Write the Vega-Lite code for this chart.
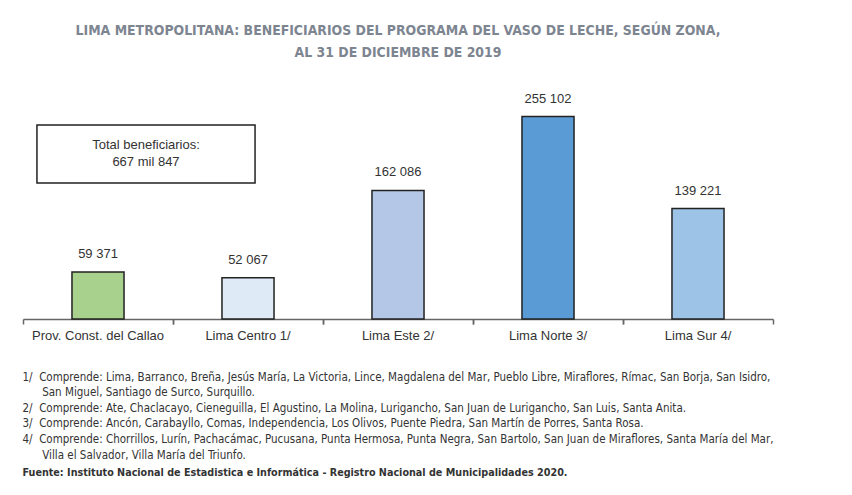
{
  "$schema": "https://vega.github.io/schema/vega-lite/v6.json",
  "width": 750,
  "height": 238,
  "autosize": {"type": "none"},
  "padding": {"left": 23, "top": 81, "right": 79, "bottom": 176},
  "background": "white",
  "title": {
    "text": ["LIMA METROPOLITANA: BENEFICIARIOS DEL PROGRAMA DEL VASO DE LECHE, SEGÚN ZONA,", "AL 31 DE DICIEMBRE DE 2019"],
    "font": "DejaVu Sans Condensed",
    "fontWeight": "bold",
    "fontSize": 13.9,
    "color": "#7d8591",
    "lineHeight": 22,
    "anchor": "middle",
    "offset": 21
  },
  "data": {
    "values": [
      {"zona": "Prov. Const. del Callao", "beneficiarios": 59371},
      {"zona": "Lima Centro 1/", "beneficiarios": 52067},
      {"zona": "Lima Este 2/", "beneficiarios": 162086},
      {"zona": "Lima Norte 3/", "beneficiarios": 255102},
      {"zona": "Lima Sur 4/", "beneficiarios": 139221}
    ]
  },
  "layer": [
    {
      "mark": {"type": "bar", "width": {"band": 0.347}, "stroke": "#222222", "strokeWidth": 1.5},
      "encoding": {
        "x": {
          "field": "zona", "type": "nominal", "sort": null,
          "scale": {"paddingInner": 0, "paddingOuter": 0},
          "axis": {
            "orient": "bottom",
            "bandPosition": 0,
            "domainColor": "#666666", "domainWidth": 1.5,
            "tickColor": "#666666", "tickWidth": 1.5, "tickSize": 5,
            "labelFont": "Liberation Sans", "labelFontSize": 13, "labelColor": "#333333",
            "labelPadding": 5, "labelAngle": 0, "labelLimit": 0,
            "title": [
              "1/\u00a0\u00a0Comprende: Lima, Barranco, Breña, Jesús María, La Victoria, Lince, Magdalena del Mar, Pueblo Libre, Miraflores, Rímac, San Borja, San Isidro,",
              "\u200b\u00a0\u00a0\u00a0\u00a0\u00a0\u00a0San Miguel, Santiago de Surco, Surquillo.",
              "2/\u00a0\u00a0Comprende: Ate, Chaclacayo, Cieneguilla, El Agustino, La Molina, Lurigancho, San Juan de Lurigancho, San Luis, Santa Anita.",
              "3/\u00a0\u00a0Comprende: Ancón, Carabayllo, Comas, Independencia, Los Olivos, Puente Piedra, San Martín de Porres, Santa Rosa.",
              "4/\u00a0\u00a0Comprende: Chorrillos, Lurín, Pachacámac, Pucusana, Punta Hermosa, Punta Negra, San Bartolo, San Juan de Miraflores, Santa María del Mar,",
              "\u200b\u00a0\u00a0\u00a0\u00a0\u00a0\u00a0Villa el Salvador, Villa María del Triunfo."
            ],
            "titleFont": "DejaVu Sans Condensed", "titleFontSize": 11.5, "titleFontWeight": "normal", "titleColor": "#333333",
            "titleAnchor": "start", "titleAlign": "left", "titleBaseline": "top",
            "titleX": -1, "titleY": 52, "titleLineHeight": 15.6
          }
        },
        "y": {
          "field": "beneficiarios", "type": "quantitative",
          "scale": {"domain": [0, 300000], "nice": false},
          "axis": null
        },
        "color": {
          "field": "zona", "type": "nominal", "sort": null,
          "scale": {"range": ["#a9d18e", "#deebf7", "#b4c7e7", "#5b9bd5", "#9dc3e6"]},
          "legend": null
        }
      }
    },
    {
      "mark": {"type": "text", "font": "Liberation Sans", "fontSize": 13, "color": "#333333", "baseline": "alphabetic", "dy": -14},
      "encoding": {
        "x": {
          "field": "zona", "type": "nominal", "sort": null,
          "axis": {
            "orient": "bottom",
            "bandPosition": 1,
            "domain": false, "labels": false,
            "tickColor": "#666666", "tickWidth": 1.5, "tickSize": 5,
            "title": "Fuente: Instituto Nacional de Estadistica e Informática - Registro Nacional de Municipalidades 2020.",
            "titleFont": "DejaVu Sans Condensed", "titleFontSize": 10.7, "titleFontWeight": "bold", "titleColor": "#333333",
            "titleAnchor": "start", "titleAlign": "left", "titleBaseline": "top",
            "titleX": -1, "titleY": 148
          }
        },
        "y": {"field": "beneficiarios", "type": "quantitative"},
        "text": {"field": "beneficiarios", "type": "quantitative", "format": ",d"}
      }
    },
    {
      "data": {"values": [{"total": 667847}]},
      "mark": {"type": "rect", "fill": "white", "stroke": "#222222", "strokeWidth": 1.5},
      "encoding": {
        "x": {"datum": "Prov. Const. del Callao", "type": "nominal", "bandPosition": 0.093, "axis": null},
        "x2": {"datum": "Lima Centro 1/", "bandPosition": 0.547},
        "y": {"datum": 244500, "type": "quantitative"},
        "y2": {"datum": 171500}
      }
    },
    {
      "data": {"values": [{"total": 667847}]},
      "mark": {"type": "text", "text": ["Total beneficiarios:", "667 mil 847"], "font": "Liberation Sans", "fontSize": 13, "color": "#333333", "lineHeight": 17, "baseline": "middle", "align": "center"},
      "encoding": {
        "x": {"datum": "Prov. Const. del Callao", "type": "nominal", "bandPosition": 0.82, "axis": null},
        "y": {"datum": 219300, "type": "quantitative"}
      }
    }
  ],
  "resolve": {"axis": {"x": "independent"}},
  "config": {
    "view": {"stroke": null},
    "locale": {"number": {"decimal": ",", "thousands": " ", "grouping": [3], "currency": ["", ""]}}
  }
}
